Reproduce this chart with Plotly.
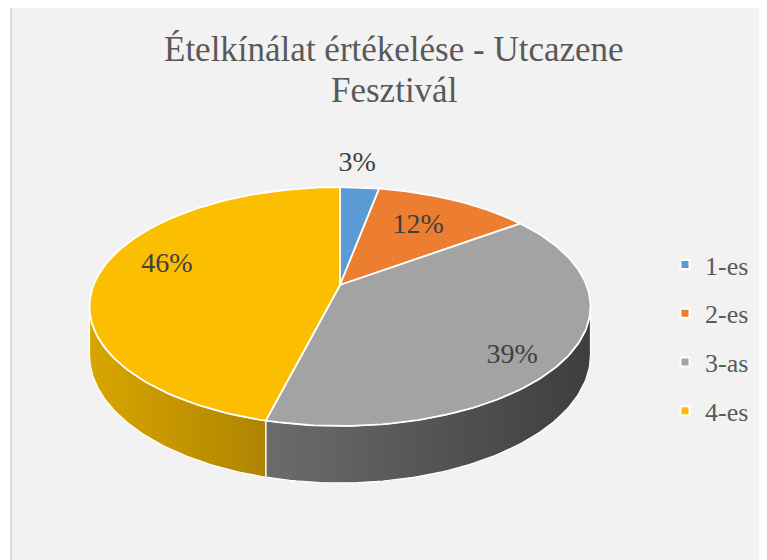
import numpy as np
import plotly.graph_objects as go

# ---- data ----
categories = ["1-es", "2-es", "3-as", "4-es"]
values = [3, 12, 39, 46]
title_lines = ["Ételkínálat értékelése - Utcazene", "Fesztivál"]

# ---- style ----
top_colors = ["#5B9BD5", "#ED7D31", "#A3A3A3", "#FBBE00"]
side_left = ["#4A7DB0", "#C2652A", "#6C6C6C", "#D8A600"]
side_right = ["#2F5F8C", "#9A4D1E", "#3E3E3E", "#AF8400"]
FONT = "Liberation Serif"
OFF = 8  # page body margin in the browser
W, H = 767, 560

# projection parameters (screen pixel space)
CX, CY = 340.0, 285.0
RX, RY = 246.4, 115.6
K = 0.18
DEPTH = 46.7


def px(x):
    return (x - OFF) / W


def py(y):
    return 1 - (y - OFF) / H


def proj(theta_deg, f=1.0, drop=0.0):
    t = np.radians(theta_deg)
    w = 1 + K * f * np.cos(t)
    x = CX + RX * f * np.sin(t) / w
    y = CY - RY * f * np.cos(t) / w + drop / w
    return x, y


total = float(sum(values))
cum = np.concatenate([[0.0], np.cumsum(values)]) / total * 360.0
vis_a = np.degrees(np.arccos(-K))
vis_b = 360.0 - vis_a

fig = go.Figure()

# side walls
for i, cat in enumerate(categories):
    a, b = max(cum[i], vis_a), min(cum[i + 1], vis_b)
    if a >= b:
        continue
    th = np.linspace(a, b, 80)
    xt, yt = proj(th)
    xb, yb = proj(th[::-1], drop=DEPTH)
    xs = np.concatenate([xt, xb, xt[:1]])
    ys = np.concatenate([yt, yb, yt[:1]])
    fig.add_trace(go.Scatter(
        x=xs, y=ys, mode="lines", fill="toself",
        fillgradient=dict(type="horizontal",
                          colorscale=[[0, side_left[i]], [1, side_right[i]]]),
        line=dict(color="white", width=1.2),
        hoverinfo="skip", showlegend=False))

# top faces
for i, cat in enumerate(categories):
    th = np.linspace(cum[i], cum[i + 1], 120)
    xa, ya = proj(th)
    xs = np.concatenate([[CX], xa, [CX]])
    ys = np.concatenate([[CY], ya, [CY]])
    fig.add_trace(go.Scatter(
        x=xs, y=ys, mode="lines", fill="toself", fillcolor=top_colors[i],
        line=dict(color="white", width=1.8),
        name=cat, hoverinfo="name", showlegend=False))

# data labels
label_f = [1.28, 0.65, 0.72, 0.72]
label_dx = [-7, 0, 14, 0]
label_dy = [-1, -1, 21, -10]
mids = (cum[:-1] + cum[1:]) / 2
lx, ly = [], []
for i in range(len(values)):
    x, y = proj(mids[i], f=label_f[i])
    lx.append(x + label_dx[i])
    ly.append(y + label_dy[i])
fig.add_trace(go.Scatter(
    x=lx, y=ly, mode="text",
    text=[f"{v / total * 100:.0f}%" for v in values],
    textfont=dict(family=FONT, size=28, color="#404040"),
    textposition="middle center", hoverinfo="skip", showlegend=False))

# legend entries
for i, cat in enumerate(categories):
    fig.add_trace(go.Scatter(
        x=[None], y=[None], mode="markers", name=cat, legendgroup=cat,
        marker=dict(symbol="square", size=9, color=top_colors[i],
                    line=dict(color="white", width=2))))

fig.update_layout(
    width=W, height=H,
    margin=dict(l=0, r=0, t=0, b=0),
    paper_bgcolor="white", plot_bgcolor="rgba(0,0,0,0)",
    xaxis=dict(range=[OFF, W + OFF], visible=False, fixedrange=True),
    yaxis=dict(range=[H + OFF, OFF], visible=False, fixedrange=True),
    showlegend=True,
    legend=dict(x=px(665), y=py(241), xanchor="left", yanchor="top",
                font=dict(family=FONT, size=26, color="#595959"),
                bgcolor="rgba(0,0,0,0)", tracegroupgap=12, itemsizing="trace"),
    shapes=[dict(type="rect", xref="x", yref="y", x0=11, y0=7, x1=790, y1=590,
                 fillcolor="#F2F2F2", line=dict(color="#D9D9D9", width=2),
                 layer="below")],
    annotations=[
        dict(text=title_lines[0], x=px(394), y=py(50), xref="paper", yref="paper",
             xanchor="center", yanchor="middle", showarrow=False,
             font=dict(family=FONT, size=35, color="#595959")),
        dict(text=title_lines[1], x=px(394), y=py(90), xref="paper", yref="paper",
             xanchor="center", yanchor="middle", showarrow=False,
             font=dict(family=FONT, size=35, color="#595959")),
    ],
)

fig.write_html("out.html")
